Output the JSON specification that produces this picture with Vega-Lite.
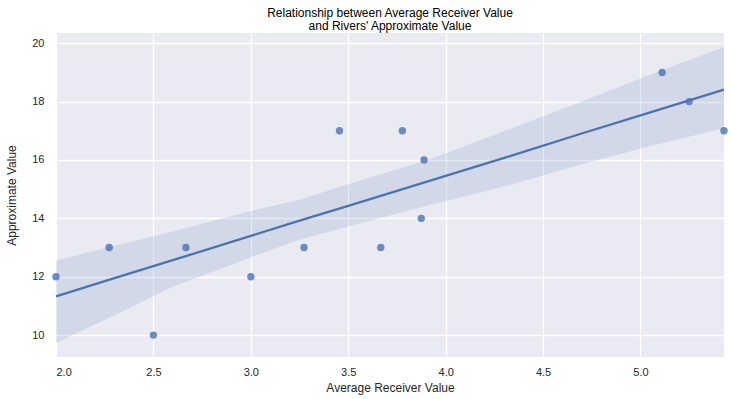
{
  "$schema": "https://vega.github.io/schema/vega-lite/v6.json",
  "autosize": "none",
  "width": 668,
  "height": 324,
  "padding": {"left": 56, "top": 33, "right": 7, "bottom": 42},
  "background": "white",
  "title": {
    "text": ["Relationship between Average Receiver Value", "and Rivers' Approximate Value"],
    "anchor": "middle",
    "font": "Liberation Sans",
    "fontSize": 12,
    "fontWeight": "normal",
    "color": "#000000",
    "lineHeight": 13,
    "offset": 0
  },
  "config": {
    "view": {"fill": "#EAEAF2", "stroke": null},
    "axis": {
      "domain": false,
      "ticks": false,
      "tickSize": 0,
      "grid": true,
      "gridColor": "#FFFFFF",
      "gridWidth": 1.3,
      "labelFont": "Liberation Sans",
      "labelFontSize": 11,
      "labelColor": "#262626",
      "titleFont": "Liberation Sans",
      "titleFontSize": 12,
      "titleFontWeight": "normal",
      "titleColor": "#262626"
    }
  },
  "datasets": {
    "pts": [
      {"receiver": 2.0, "approx": 12},
      {"receiver": 2.273, "approx": 13},
      {"receiver": 2.5, "approx": 10},
      {"receiver": 2.667, "approx": 13},
      {"receiver": 3.0, "approx": 12},
      {"receiver": 3.273, "approx": 13},
      {"receiver": 3.455, "approx": 17},
      {"receiver": 3.667, "approx": 13},
      {"receiver": 3.778, "approx": 17},
      {"receiver": 3.875, "approx": 14},
      {"receiver": 3.889, "approx": 16},
      {"receiver": 5.111, "approx": 19},
      {"receiver": 5.25, "approx": 18},
      {"receiver": 5.4286, "approx": 17}
    ],
    "fit": [
      {"receiver": 2.0, "fit": 11.33, "lo": 9.73, "hi": 12.56},
      {"receiver": 2.3, "fit": 11.95, "lo": 10.68, "hi": 13.06},
      {"receiver": 2.587, "fit": 12.54, "lo": 11.62, "hi": 13.53},
      {"receiver": 3.0, "fit": 13.4, "lo": 12.66, "hi": 14.25},
      {"receiver": 3.254, "fit": 13.93, "lo": 13.28, "hi": 14.65},
      {"receiver": 3.5, "fit": 14.43, "lo": 13.72, "hi": 15.17},
      {"receiver": 3.921, "fit": 15.29, "lo": 14.47, "hi": 16.03},
      {"receiver": 4.305, "fit": 16.08, "lo": 15.1, "hi": 17.0},
      {"receiver": 4.69, "fit": 16.89, "lo": 15.84, "hi": 17.98},
      {"receiver": 5.05, "fit": 17.63, "lo": 16.48, "hi": 18.92},
      {"receiver": 5.4286, "fit": 18.41, "lo": 17.09, "hi": 19.87}
    ]
  },
  "encoding": {
    "x": {
      "field": "receiver",
      "type": "quantitative",
      "scale": {"domain": [2.0, 5.4286], "nice": false, "zero": false},
      "axis": {"values": [2.0, 2.5, 3.0, 3.5, 4.0, 4.5, 5.0], "format": ".1f", "title": "Average Receiver Value", "labelPadding": 9, "titlePadding": 5}
    }
  },
  "layer": [
    {
      "data": {"name": "pts"},
      "mark": {"type": "circle", "color": "#4C72B0", "opacity": 0.8, "size": 55},
      "encoding": {
        "y": {
          "field": "approx",
          "type": "quantitative",
          "scale": {"domain": [9.25, 20.35], "nice": false, "zero": false},
          "axis": {"values": [10, 12, 14, 16, 18, 20], "title": "Approximate Value", "labelPadding": 12, "titlePadding": 13}
        }
      }
    },
    {
      "data": {"name": "fit"},
      "mark": {"type": "area", "color": "#4C72B0", "opacity": 0.15},
      "encoding": {
        "y": {"field": "lo", "type": "quantitative"},
        "y2": {"field": "hi"}
      }
    },
    {
      "data": {"name": "fit"},
      "mark": {"type": "line", "color": "#4C72B0", "strokeWidth": 2.3},
      "encoding": {
        "y": {"field": "fit", "type": "quantitative"}
      }
    }
  ]
}
